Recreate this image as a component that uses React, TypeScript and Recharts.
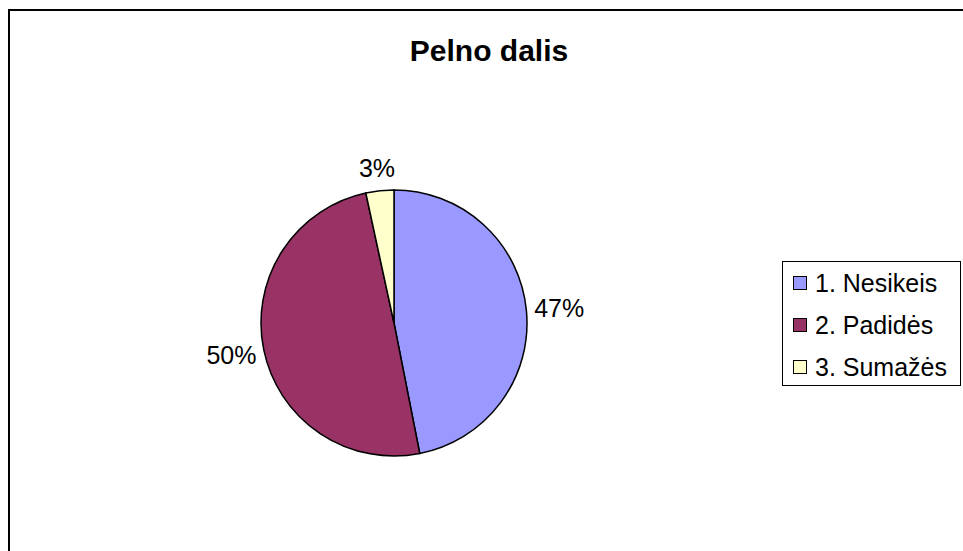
import { PieChart, Pie, Cell, Legend } from 'recharts';

const categories = ['1. Nesikeis', '2. Padidės', '3. Sumažės'];
const shares = [46.9, 49.7, 3.4];
const colors = ['#9999FF', '#993366', '#FFFFCC'];

const data = categories.map((name, i) => ({ name, value: shares[i] }));

const FONT = "Arial, 'Liberation Sans', sans-serif";
const RAD = Math.PI / 180;

const renderLabel = (props: any) => {
    const { cx, cy, midAngle, outerRadius, percent } = props;
    const text = `${Math.round(percent * 100)}%`;
    const dx = Math.cos(-midAngle * RAD);
    const dy = Math.sin(-midAngle * RAD);
    const w = (text.length - 1) * 13.9 + 22.2;
    const h = 30;
    const px = cx + dx * (outerRadius + 8) + dx * w / 2;
    const py = cy + dy * (outerRadius + 8) + dy * h / 2;
    return (
        <text x={px} y={py} textAnchor="middle" dominantBaseline="central"
            fontSize={25} fontFamily={FONT} fill="#000">
            {text}
        </text>
    );
};

const renderLegend = (props: any) => {
    const { payload } = props;
    return (
        <div style={{ border: '1px solid #000', background: '#fff', width: 177, height: 123, overflow: 'visible', boxSizing: 'content-box', fontFamily: FONT, fontSize: 25 }}>
            {payload.map((entry: any, i: number) => (
                <div key={i} style={{ height: 42, marginTop: i === 0 ? 0 : 0, display: 'flex', alignItems: 'center', paddingLeft: 10 }}>
                    <span style={{ display: 'inline-block', width: 12, height: 12, border: '1px solid #000', background: entry.color, marginRight: 8 }} />
                    <span style={{ whiteSpace: 'nowrap' }}>{entry.value}</span>
                </div>
            ))}
        </div>
    );
};

const App = () => {
    return (
        <div style={{ position: 'absolute', left: 0, top: 0, width: 963, height: 551, background: '#fff', overflow: 'hidden' }}>
            <div style={{ position: 'absolute', left: 8, top: 9, width: 1000, height: 600, borderTop: '2px solid #000', borderLeft: '2px solid #000' }} />
            <div style={{ position: 'absolute', left: 289, top: 33, width: 400, textAlign: 'center', fontFamily: FONT, fontWeight: 'bold', fontSize: 30, lineHeight: '36px' }}>
                Pelno dalis
            </div>
            <div style={{ position: 'absolute', left: 0, top: 0 }}>
                <PieChart width={963} height={551} margin={{ top: 0, right: 0, bottom: 0, left: 0 }}>
                    <Pie
                        data={data}
                        dataKey="value"
                        nameKey="name"
                        cx={394}
                        cy={323}
                        outerRadius={133}
                        startAngle={90}
                        endAngle={-270}
                        stroke="#000"
                        strokeWidth={1.5}
                        label={renderLabel}
                        labelLine={false}
                        isAnimationActive={false}
                    >
                        {data.map((d, i) => (
                            <Cell key={d.name} fill={colors[i]} />
                        ))}
                    </Pie>
                    <Legend content={renderLegend} wrapperStyle={{ left: 782, top: 261, width: 179, bottom: 'auto', right: 'auto' }} />
                </PieChart>
            </div>
        </div>
    );
};

export default App;
